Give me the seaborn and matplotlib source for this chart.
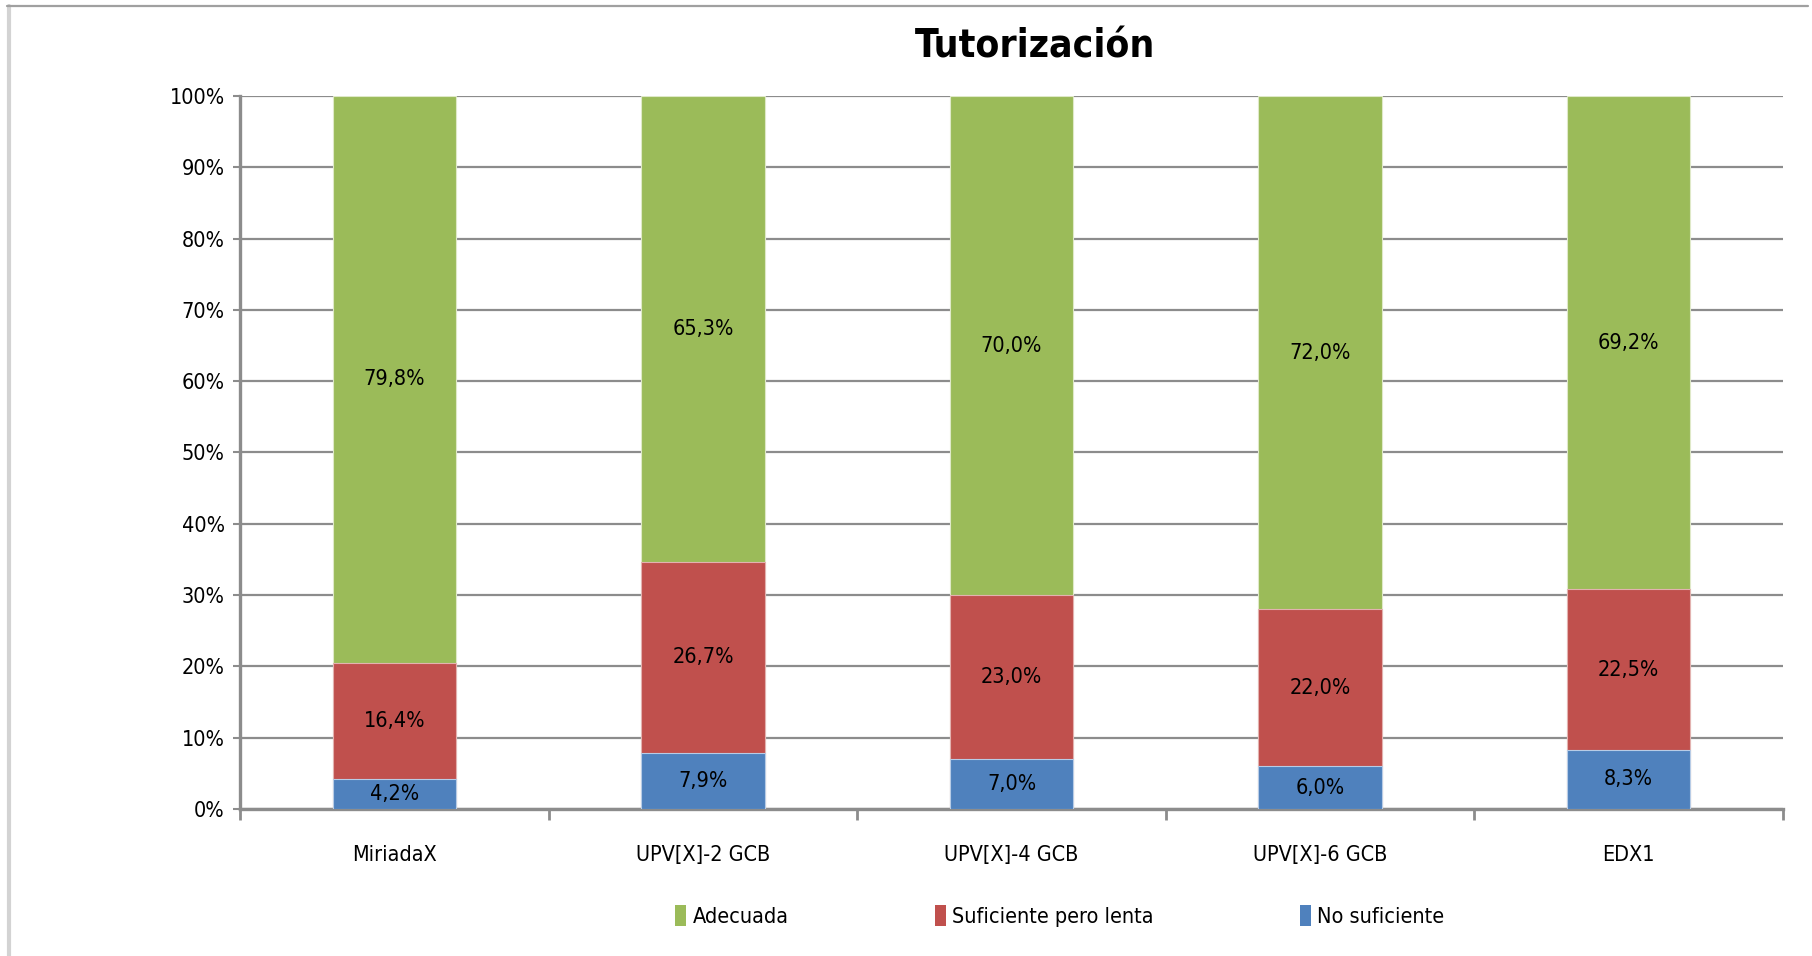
import numpy as np
import pandas as pd
import matplotlib
matplotlib.use('Agg')
import matplotlib.pyplot as plt
import seaborn as sns
from matplotlib import font_manager
from matplotlib.patches import Patch
from matplotlib.lines import Line2D

# data
cursos = ['MiriadaX', 'UPV[X]-2 GCB', 'UPV[X]-4 GCB', 'UPV[X]-6 GCB', 'EDX1']
no_suficiente = [4.2, 7.9, 7.0, 6.0, 8.3]
suficiente_lenta = [16.4, 26.7, 23.0, 22.0, 22.5]
adecuada = [79.8, 65.3, 70.0, 72.0, 69.2]
series = ['Adecuada', 'Suficiente pero lenta', 'No suficiente']
colores = {'Adecuada': '#9BBB59', 'Suficiente pero lenta': '#C0504D', 'No suficiente': '#4F81BD'}
yticks = [0, 10, 20, 30, 40, 50, 60, 70, 80, 90, 100]

sns.set_style('white')

# pick a narrow font if there is one
nombres = {f.name for f in font_manager.fontManager.ttflist}
stretch = 'normal'
if 'Liberation Sans Narrow' in nombres:
    fam = 'Liberation Sans Narrow'
else:
    fam = 'DejaVu Sans'
    if any(f.name == 'DejaVu Sans' and f.stretch in ('condensed', 600, 'semi-condensed')
           for f in font_manager.fontManager.ttflist):
        stretch = 'condensed'
plt.rcParams['font.family'] = [fam, 'DejaVu Sans']
plt.rcParams['font.stretch'] = stretch
plt.rcParams['text.color'] = 'black'
plt.rcParams['xtick.labelcolor'] = 'black'
plt.rcParams['ytick.labelcolor'] = 'black'

df = pd.DataFrame({'curso': cursos, 'No suficiente': no_suficiente,
                   'Suficiente pero lenta': suficiente_lenta, 'Adecuada': adecuada})
tot = df[series].sum(axis=1)
df['p_azul'] = df['No suficiente'] / tot * 100
df['p_rojo'] = df['Suficiente pero lenta'] / tot * 100
df['p_verde'] = df['Adecuada'] / tot * 100
df['c_rojo'] = df['p_azul'] + df['p_rojo']
df['c_verde'] = df['c_rojo'] + df['p_verde']

fig = plt.figure(figsize=(18.12, 9.56), dpi=100)
ax = fig.add_axes([0.1325, 0.1538, 0.8515, 0.7458])
ax.set_axisbelow(True)

# cumulative heights drawn back to front
sns.barplot(data=df, x='curso', y='c_verde', color=colores['Adecuada'], width=0.4,
            saturation=1, ax=ax, edgecolor='#dfe9c8', linewidth=0.8, zorder=2)
sns.barplot(data=df, x='curso', y='c_rojo', color=colores['Suficiente pero lenta'], width=0.4,
            saturation=1, ax=ax, edgecolor='#e3b2b0', linewidth=0.8, zorder=3)
sns.barplot(data=df, x='curso', y='p_azul', color=colores['No suficiente'], width=0.4,
            saturation=1, ax=ax, edgecolor='#b8cce6', linewidth=0.8, zorder=4)

fs = 15.5
for i, row in df.iterrows():
    ax.text(i, row['p_azul'] / 2, f"{row['No suficiente']:.1f}%".replace('.', ','),
            ha='center', va='center', fontsize=fs, zorder=5)
    ax.text(i, row['p_azul'] + row['p_rojo'] / 2, f"{row['Suficiente pero lenta']:.1f}%".replace('.', ','),
            ha='center', va='center', fontsize=fs, zorder=5)
    ax.text(i, row['c_rojo'] + row['p_verde'] / 2, f"{row['Adecuada']:.1f}%".replace('.', ','),
            ha='center', va='center', fontsize=fs, zorder=5)

ax.set_xlim(-0.5, len(cursos) - 0.5)
ax.set_ylim(0, 100)
ax.set_yticks(yticks)
ax.set_yticklabels([f'{v}%' for v in yticks], fontsize=fs)
ax.yaxis.grid(True, color='#8c8c8c', linewidth=1.6)
ax.xaxis.grid(False)
ax.set_xlabel('')
ax.set_ylabel('')
ax.tick_params(axis='y', length=5, width=1.5, color='#8c8c8c', pad=6, left=True)
ax.tick_params(axis='x', which='major', length=0, pad=26, labelsize=fs)
ax.set_xticks(np.arange(-0.5, len(cursos), 1.0), minor=True)
ax.tick_params(axis='x', which='minor', length=8, width=2, color='#8c8c8c', bottom=True)

for s in ['top', 'right']:
    ax.spines[s].set_visible(False)
for s in ['left', 'bottom']:
    ax.spines[s].set_color('#8c8c8c')
    ax.spines[s].set_linewidth(2.4)

fig.text(0.571, 0.951, 'Tutorización', ha='center', va='center',
         fontsize=28, fontweight='bold')

handles = [Patch(facecolor=colores[s], edgecolor='none') for s in series]
fig.legend(handles, series, loc='center', bbox_to_anchor=(0.585, 0.042), ncol=3,
           frameon=False, fontsize=fs, handlelength=0.5, handleheight=1.1,
           handletextpad=0.3, columnspacing=6.8)

# outer frame lines
fig.add_artist(Line2D([0.005, 0.005], [0, 0.994], transform=fig.transFigure,
                      color='#d3d3d3', linewidth=3))
fig.add_artist(Line2D([0.004, 0.998], [0.994, 0.994], transform=fig.transFigure,
                      color='#a0a0a0', linewidth=1.6))

fig.savefig('out.png', dpi=100, facecolor='white')
